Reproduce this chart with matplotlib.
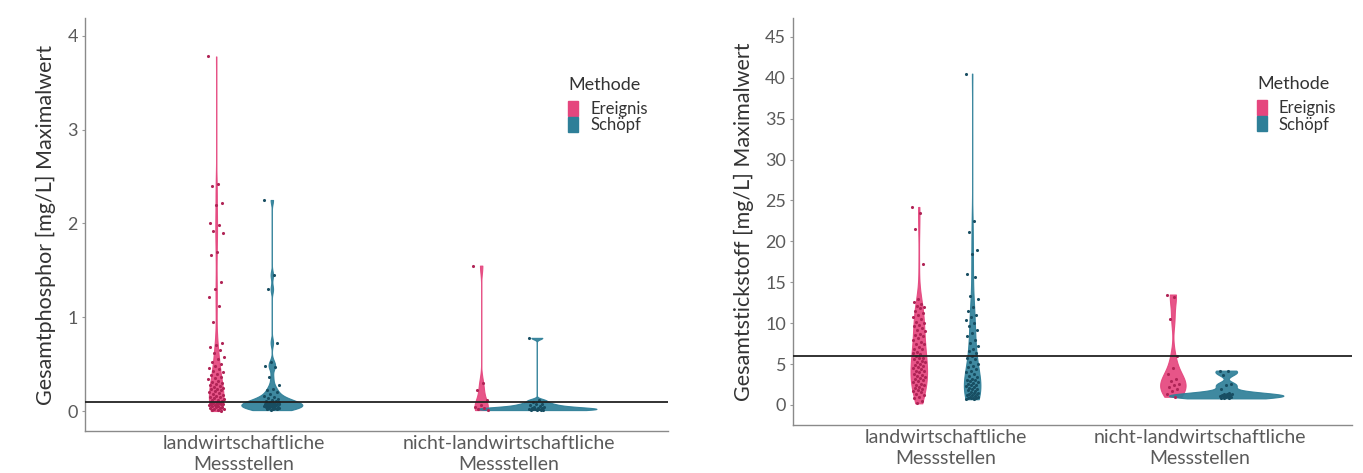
import numpy as np
import matplotlib
matplotlib.use("Agg")
import matplotlib.pyplot as plt
from matplotlib.patches import Patch

plt.rcParams['font.family'] = ['Lato', 'DejaVu Sans']

# ---------------- data ----------------
categories = ["landwirtschaftliche\nMessstellen", "nicht-landwirtschaftliche\nMessstellen"]
methods = ["Ereignis", "Schöpf"]

# Gesamtphosphor [mg/L] maximum values
tp_landw_ereignis = [3.78, 2.42, 2.40, 2.22, 2.20, 2.00, 1.98, 1.92, 1.90, 1.70, 1.66, 1.38,
                     1.30, 1.22, 1.12, 0.95, 0.72, 0.70, 0.68, 0.65, 0.62, 0.58, 0.55, 0.52,
                     0.50, 0.48, 0.46, 0.45, 0.43, 0.42, 0.40, 0.38, 0.36, 0.35, 0.34, 0.32,
                     0.31, 0.30, 0.29, 0.28, 0.27, 0.26, 0.25, 0.24, 0.23, 0.22, 0.21, 0.20,
                     0.19, 0.18, 0.17, 0.16, 0.15, 0.15, 0.14, 0.13, 0.12, 0.12, 0.11, 0.10,
                     0.10, 0.09, 0.09, 0.08, 0.08, 0.07, 0.07, 0.06, 0.06, 0.05, 0.05, 0.04,
                     0.04, 0.03, 0.03, 0.02, 0.02, 0.01, 0.01, 0.00]
tp_landw_schoepf = [2.25, 1.45, 1.30, 0.73, 0.52, 0.48, 0.47, 0.36, 0.28, 0.24, 0.22, 0.20,
                    0.18, 0.16, 0.15, 0.14, 0.13, 0.12, 0.11, 0.11, 0.10, 0.10, 0.09, 0.09,
                    0.08, 0.08, 0.08, 0.07, 0.07, 0.07, 0.06, 0.06, 0.06, 0.05, 0.05, 0.05,
                    0.05, 0.04, 0.04, 0.04, 0.03, 0.03, 0.03, 0.02, 0.02, 0.02, 0.01]
tp_nlandw_ereignis = [1.55, 0.30, 0.22, 0.12, 0.06, 0.04, 0.03, 0.02, 0.01]
tp_nlandw_schoepf = [0.78, 0.12, 0.10, 0.08, 0.07, 0.06, 0.05, 0.04, 0.04, 0.03, 0.03,
                     0.03, 0.02, 0.02, 0.02, 0.02, 0.01, 0.01, 0.01, 0.01]
tp_threshold = 0.1

# Gesamtstickstoff [mg/L] maximum values
tn_landw_ereignis = [24.2, 23.5, 21.5, 17.2, 13.0, 12.6, 12.3, 12.1, 12.0, 11.8, 11.5, 11.2,
                     11.0, 10.8, 10.5, 10.2, 10.0, 9.8, 9.7, 9.4, 9.2, 9.0, 8.7, 8.5, 8.4,
                     8.2, 8.0, 7.7, 7.5, 7.4, 7.1, 6.9, 6.8, 6.5, 6.3, 6.2, 6.0, 5.8, 5.7,
                     5.6, 5.4, 5.3, 5.2, 5.0, 4.9, 4.8, 4.6, 4.5, 4.4, 4.2, 4.1, 4.0, 3.8,
                     3.7, 3.6, 3.4, 3.3, 3.2, 3.0, 2.9, 2.8, 2.6, 2.5, 2.4, 2.2, 2.1, 2.0,
                     1.8, 1.7, 1.6, 1.4, 1.2, 1.0, 0.8, 0.5, 0.2]
tn_landw_schoepf = [40.5, 22.5, 21.2, 19.0, 18.4, 16.0, 15.7, 13.3, 13.0, 12.0, 11.5, 11.0,
                    10.7, 10.4, 10.0, 9.6, 9.2, 8.8, 8.4, 8.0, 7.6, 7.2, 6.8, 6.6, 6.4, 6.0,
                    5.8, 5.6, 5.2, 5.0, 4.8, 4.6, 4.4, 4.2, 4.0, 3.8, 3.6, 3.4, 3.2, 3.1,
                    3.0, 2.9, 2.8, 2.7, 2.6, 2.5, 2.4, 2.3, 2.2, 2.1, 2.0, 1.9, 1.8, 1.7,
                    1.6, 1.5, 1.5, 1.4, 1.3, 1.2, 1.2, 1.1, 1.0, 1.0, 0.9, 0.9, 0.8, 0.8,
                    0.7, 0.7]
tn_nlandw_ereignis = [13.5, 13.2, 10.5, 6.0, 4.5, 3.8, 3.2, 2.9, 2.6, 2.4, 2.2, 2.0, 1.7,
                      1.4, 1.0]
tn_nlandw_schoepf = [4.2, 4.1, 3.7, 2.6, 2.4, 2.0, 1.5, 1.4, 1.3, 1.3, 1.2, 1.2, 1.2, 1.1,
                     1.1, 1.1, 1.0, 1.0, 0.9, 0.9, 0.8]
tn_threshold = 6

# ---------------- style ----------------
col_fill = {"Ereignis": "#E5467E", "Schöpf": "#2E7F98"}
col_point = {"Ereignis": "#B02456", "Schöpf": "#184E62"}
grey_txt = "#5a5a5a"
dodge = 0.105


def nrd0(x):
    x = np.asarray(x, float)
    sd = np.std(x, ddof=1)
    iqr = np.subtract(*np.percentile(x, [75, 25]))
    lo = min(sd, iqr / 1.34) if iqr > 0 else sd
    return 0.9 * lo * len(x) ** (-0.2)


def bw(kde):
    d = np.asarray(kde.dataset).ravel()
    return nrd0(d) / np.std(d, ddof=1)


def draw_panel(ax, groups, widths, jit, ylim, yticks, ylabel, thr, xlim):
    for (ci, mi, vals), w in zip(groups, widths):
        pos = ci + 1 + (-dodge if mi == 0 else dodge)
        m = methods[mi]
        vp = ax.violinplot([vals], positions=[pos], widths=w, showextrema=False,
                           bw_method=bw, points=400)
        for b in vp['bodies']:
            b.set_facecolor(col_fill[m])
            b.set_edgecolor(col_fill[m])
            b.set_alpha(0.92)
            b.set_linewidth(0.8)
        n = len(vals)
        offs = np.array([((i * 0.6180339887) % 1.0) - 0.5 for i in range(n)]) * jit
        ax.scatter(pos + offs, vals, s=5, color=col_point[m], zorder=3, linewidths=0)
    ax.axhline(thr, color="#222222", lw=1.3, zorder=4)
    ax.set_xlim(*xlim)
    ax.set_ylim(*ylim)
    ax.set_yticks(yticks)
    ax.set_yticklabels([str(t) for t in yticks])
    ax.set_xticks([1, 2])
    ax.set_xticklabels(categories, fontsize=14, color=grey_txt, linespacing=1.3)
    ax.tick_params(axis='x', length=0, pad=3)
    ax.tick_params(axis='y', length=2, color="#999999", labelsize=13, labelcolor=grey_txt, pad=3)
    for s in ("top", "right"):
        ax.spines[s].set_visible(False)
    for s in ("left", "bottom"):
        ax.spines[s].set_color("#8a8a8a")
        ax.spines[s].set_linewidth(1.0)
    ax.set_ylabel(ylabel, fontsize=15.5, color="#333333", labelpad=8)
    handles = [Patch(facecolor=col_fill[m], edgecolor=col_fill[m], label=m) for m in methods]
    leg = ax.legend(handles=handles, title="Methode", loc="upper left",
                    bbox_to_anchor=(0.815, 0.878), frameon=False, fontsize=12,
                    title_fontsize=13, handlelength=0.6, handleheight=1.0,
                    labelspacing=0.0, handletextpad=0.7, borderpad=0)
    leg._legend_box.align = "left"
    leg._legend_box.sep = 6
    leg.get_title().set_color("#333333")
    for t in leg.get_texts():
        t.set_color("#333333")


fig = plt.figure(figsize=(13.63, 4.73), dpi=100)
ax1 = fig.add_axes([85 / 1363, 1 - 431 / 473, 583 / 1363, 413 / 473])
ax2 = fig.add_axes([793 / 1363, 1 - 425 / 473, 559 / 1363, 407 / 473])

draw_panel(ax1,
           [(0, 0, tp_landw_ereignis), (0, 1, tp_landw_schoepf),
            (1, 0, tp_nlandw_ereignis), (1, 1, tp_nlandw_schoepf)],
           [0.055, 0.23, 0.05, 0.45], 0.06,
           (-0.213, 4.19), [0, 1, 2, 3, 4],
           "Gesamtphosphor [mg/L] Maximalwert", tp_threshold, (0.4, 2.6))

draw_panel(ax2,
           [(0, 0, tn_landw_ereignis), (0, 1, tn_landw_schoepf),
            (1, 0, tn_nlandw_ereignis), (1, 1, tn_nlandw_schoepf)],
           [0.065, 0.065, 0.1, 0.45], 0.05,
           (-2.45, 47.3), [0, 5, 10, 15, 20, 25, 30, 35, 40, 45],
           "Gesamtstickstoff [mg/L] Maximalwert", tn_threshold, (0.4, 2.6))

fig.savefig("out.png", dpi=100)
